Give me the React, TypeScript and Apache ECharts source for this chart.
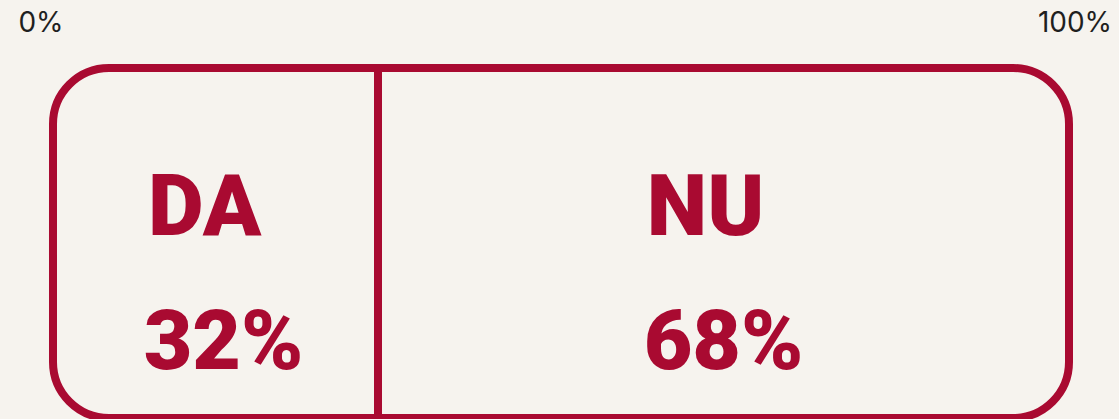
import React, { useEffect, useRef } from "react";
import * as echarts from "echarts";

const categories = ["Răspuns"];
const answerNames = ["DA", "NU"];
const answerValues = [32, 68];
const axisTicks = [0, 100];

const RED = "#a90a31";
const BG = "#f6f3ee";
const R = 56;

export default function App() {
  const ref = useRef<HTMLDivElement>(null);
  useEffect(() => {
    document.body.style.margin = "0";
    document.body.style.background = BG;
    const chart = echarts.init(ref.current!, null, { renderer: "svg" });
    const offsets = [
      { off: [-11, 30], pad: 38 },
      { off: [-18, 30], pad: 36 },
    ];
    chart.setOption({
      animation: false,
      backgroundColor: BG,
      grid: { left: 53, right: 50, top: 68, height: 350 },
      xAxis: {
        type: "value",
        position: "top",
        min: axisTicks[0],
        max: axisTicks[1],
        interval: axisTicks[1] - axisTicks[0],
        splitLine: { show: false },
        axisLine: { show: false },
        axisTick: { show: false },
        axisLabel: {
          margin: 32,
          formatter: (v: number) => (v === axisTicks[0] ? `{l|${v}%}` : `{r|${v}%}`),
          rich: {
            l: { fontFamily: "Inter", fontSize: 28, color: "#1f1f1f", padding: [0, 24, 0, 0] },
            r: { fontFamily: "Inter", fontSize: 28, color: "#1f1f1f", padding: [0, 0, 0, 12] },
          },
        },
      },
      yAxis: {
        type: "category",
        data: categories,
        show: false,
      },
      series: answerNames.map((name, i) => ({
        type: "bar",
        name,
        stack: "total",
        barWidth: "100%",
        data: [answerValues[i]],
        showBackground: i === 0,
        backgroundStyle: {
          color: "rgba(0,0,0,0)",
          borderColor: RED,
          borderWidth: 8,
          borderRadius: R,
        },
        itemStyle: { color: "rgba(0,0,0,0)", borderWidth: 0 },
        markLine:
          i === 0
            ? {
                silent: true,
                symbol: "none",
                label: { show: false },
                lineStyle: { color: RED, width: 8, type: "solid" },
                data: [{ xAxis: answerValues[0] }],
              }
            : undefined,
        label: {
          show: true,
          position: "inside",
          offset: offsets[i].off,
          formatter: `{n|${name}}\n{p|${answerValues[i]}%}`,
          rich: {
            n: {
              fontFamily: "Roboto",
              fontWeight: 900,
              fontSize: 86,
              color: RED,
              lineHeight: 135,
              align: "center",
            },
            p: {
              fontFamily: "Roboto",
              fontWeight: 900,
              fontSize: 84,
              color: RED,
              lineHeight: 135,
              align: "center",
              padding: [0, 0, 0, offsets[i].pad],
            },
          },
        },
      })),
    });
    return () => chart.dispose();
  }, []);
  return <div ref={ref} style={{ width: 1119, height: 419 }} />;
}
